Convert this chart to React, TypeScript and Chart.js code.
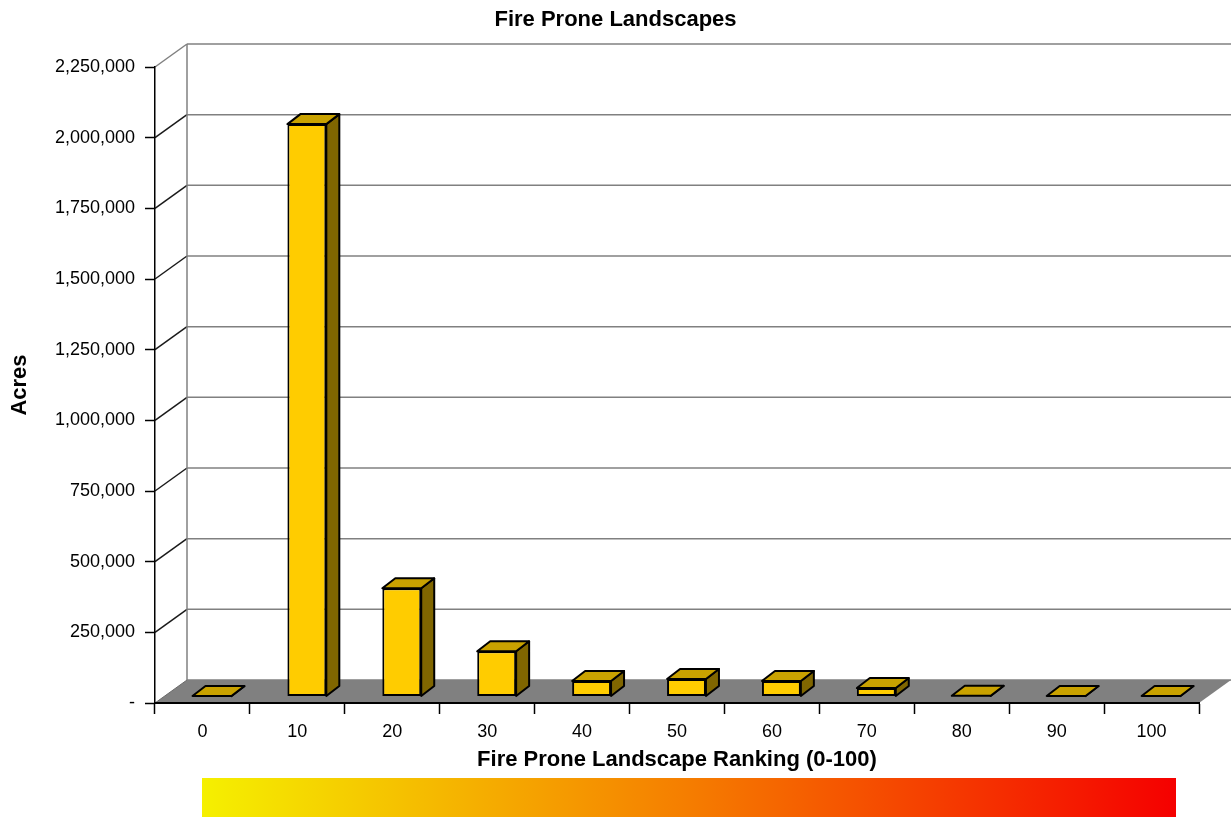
import React, { useEffect, useRef } from 'react';
import { Chart, registerables } from 'chart.js';

Chart.register(...registerables);

// ---- data ----
const categories = ['0', '10', '20', '30', '40', '50', '60', '70', '80', '90', '100'];
const acres = [1000, 2025000, 383000, 160000, 55000, 62000, 55000, 30000, 2500, 1500, 1500];
const yTicks = [0, 250000, 500000, 750000, 1000000, 1250000, 1500000, 1750000, 2000000, 2250000];

const TITLE = 'Fire Prone Landscapes';
const X_TITLE = 'Fire Prone Landscape Ranking (0-100)';
const Y_TITLE = 'Acres';

// ---- styling constants ----
const W = 1231;
const H = 817;
const FONT = '"Liberation Sans", Arial, Helvetica, sans-serif';
const WALL_DX = 32;
const WALL_DY = -23;
const BAR_DX = 9.5;
const BAR_DY = -6.5;
const DEPTH_DX = 13;
const DEPTH_DY = -10;
const FRONT = '#FFCC00';
const TOP = '#C9A200';
const SIDE = '#806600';

function poly(ctx: CanvasRenderingContext2D, pts: number[][], fill: string) {
  ctx.beginPath();
  ctx.moveTo(pts[0][0], pts[0][1]);
  for (let i = 1; i < pts.length; i++) ctx.lineTo(pts[i][0], pts[i][1]);
  ctx.closePath();
  ctx.fillStyle = fill;
  ctx.fill();
  ctx.lineWidth = 2;
  ctx.strokeStyle = '#000';
  ctx.lineJoin = 'round';
  ctx.stroke();
}

function seg(ctx: CanvasRenderingContext2D, x1: number, y1: number, x2: number, y2: number) {
  ctx.beginPath();
  ctx.moveTo(x1, y1);
  ctx.lineTo(x2, y2);
  ctx.stroke();
}

const threeD = {
  id: 'threeD',
  beforeDraw(chart: any) {
    const { ctx, chartArea: a, scales } = chart;
    const y = scales.y;
    ctx.save();
    ctx.fillStyle = '#fff';
    ctx.fillRect(0, 0, W, H);
    const backL = a.left + WALL_DX;
    const backR = a.right + WALL_DX + 40;
    ctx.lineWidth = 1.5;
    y.ticks.forEach((t: any) => {
      const py = y.getPixelForValue(t.value);
      ctx.strokeStyle = '#808080';
      seg(ctx, backL, py + WALL_DY, backR, py + WALL_DY);
      ctx.strokeStyle = t.value === y.max ? '#808080' : '#1a1a1a';
      if (t.value !== 0) seg(ctx, a.left, py, backL, py + WALL_DY);
    });
    ctx.strokeStyle = '#808080';
    seg(ctx, backL, a.top + WALL_DY, backL, a.bottom + WALL_DY);
    // floor
    ctx.beginPath();
    ctx.moveTo(a.left, a.bottom);
    ctx.lineTo(a.right, a.bottom);
    ctx.lineTo(a.right + WALL_DX, a.bottom + WALL_DY);
    ctx.lineTo(a.left + WALL_DX, a.bottom + WALL_DY);
    ctx.closePath();
    ctx.fillStyle = '#808080';
    ctx.fill();
    ctx.strokeStyle = '#6a6a6a';
    ctx.lineWidth = 1;
    seg(ctx, a.left, a.bottom, a.left + WALL_DX, a.bottom + WALL_DY);
    ctx.restore();
  },
  beforeDatasetDraw(chart: any) {
    chart.ctx.save();
    chart.ctx.translate(BAR_DX, BAR_DY);
  },
  afterDatasetDraw(chart: any, args: any) {
    const ctx = chart.ctx;
    ctx.restore();
    ctx.save();
    args.meta.data.forEach((el: any) => {
      const { x, y, base, width } = el.getProps(['x', 'y', 'base', 'width'], true);
      const l = x - width / 2 + BAR_DX;
      const r = x + width / 2 + BAR_DX;
      const t = Math.min(y, base) + BAR_DY;
      const b = Math.max(y, base) + BAR_DY;
      poly(ctx, [[r, t], [r + DEPTH_DX, t + DEPTH_DY], [r + DEPTH_DX, b + DEPTH_DY], [r, b]], SIDE);
      poly(ctx, [[l, t], [r, t], [r + DEPTH_DX, t + DEPTH_DY], [l + DEPTH_DX, t + DEPTH_DY]], TOP);
    });
    ctx.restore();
  },
  afterDraw(chart: any) {
    const ctx = chart.ctx;
    ctx.save();
    const gx0 = 202;
    const gx1 = 1176;
    const g = ctx.createLinearGradient(gx0, 0, gx1, 0);
    g.addColorStop(0, 'rgb(245,240,0)');
    g.addColorStop(0.5, 'rgb(245,125,0)');
    g.addColorStop(1, 'rgb(245,0,0)');
    ctx.fillStyle = g;
    ctx.fillRect(gx0, 778, gx1 - gx0, H - 778);
    ctx.restore();
  },
};

export default function App() {
  const ref = useRef<HTMLCanvasElement | null>(null);

  useEffect(() => {
    if (!ref.current) return;
    Chart.defaults.font.family = FONT;
    const chart = new Chart(ref.current, {
      type: 'bar',
      data: {
        labels: categories,
        datasets: [
          {
            label: 'Acres',
            data: acres,
            backgroundColor: FRONT,
            borderColor: '#000',
            borderWidth: 2,
            borderSkipped: false,
            barPercentage: 0.41,
            categoryPercentage: 1,
            xAxisID: 'x',
            yAxisID: 'y',
          },
        ],
      },
      options: {
        responsive: false,
        animation: false,
        devicePixelRatio: 1,
        layout: { padding: { left: 0, right: 0, top: 0, bottom: 42 } },
        plugins: {
          legend: { display: false },
          tooltip: { enabled: false },
          title: {
            display: true,
            text: TITLE,
            color: '#000',
            font: { size: 22, weight: 'bold', family: FONT },
            padding: { top: 7, bottom: 33.6 },
          },
        },
        scales: {
          x: {
            type: 'category',
            offset: true,
            grid: {
              offset: true,
              drawOnChartArea: false,
              drawTicks: true,
              tickLength: 11,
              tickColor: '#000',
              tickWidth: 1.5,
            },
            border: { display: true, color: '#000', width: 2 },
            ticks: { color: '#000', font: { size: 18, family: FONT }, padding: 7, maxRotation: 0, autoSkip: false },
            title: {
              display: true,
              text: X_TITLE,
              color: '#000',
              font: { size: 22, weight: 'bold', family: FONT },
              padding: { top: 0, bottom: 1.8 },
            },
            afterFit: (s: any) => {
              s.height = 72;
            },
          },
          y: {
            type: 'linear',
            min: 0,
            max: 2250000,
            afterBuildTicks: (s: any) => {
              s.ticks = yTicks.map((v) => ({ value: v }));
            },
            ticks: {
              color: '#000',
              font: { size: 18, family: FONT },
              padding: 10,
              callback: (v: any) => (Number(v) === 0 ? '-' : Number(v).toLocaleString('en-US')),
            },
            grid: { drawOnChartArea: false, drawTicks: true, tickLength: 10, tickColor: '#000', tickWidth: 1.5 },
            border: { display: true, color: '#000', width: 1.5 },
            title: {
              display: true,
              text: Y_TITLE,
              color: '#000',
              font: { size: 22, weight: 'bold', family: FONT },
              padding: { top: 7, bottom: 0 },
            },
            afterFit: (s: any) => {
              s.width = 155;
            },
          },
          y2: {
            type: 'linear',
            position: 'right',
            display: true,
            grid: { display: false },
            ticks: { display: false },
            border: { display: false },
            afterFit: (s: any) => {
              s.width = 32;
            },
          },
        },
      },
      plugins: [threeD],
    } as any);
    return () => chart.destroy();
  }, []);

  return (
    <div style={{ position: 'absolute', left: 0, top: 0, width: W, height: H }}>
      <canvas ref={ref} width={W} height={H} style={{ display: 'block' }} />
    </div>
  );
}
